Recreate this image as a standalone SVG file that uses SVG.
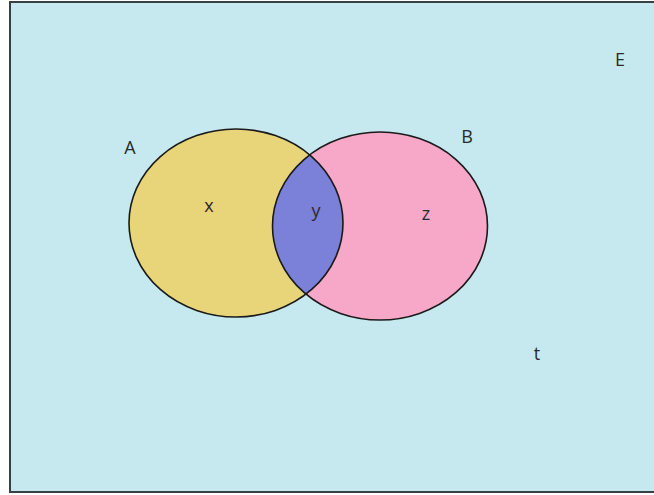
<svg xmlns="http://www.w3.org/2000/svg" width="654" height="495" viewBox="0 0 654 495">
<style>
.lbl{font-family:"Open Sans","Liberation Sans",Arial,sans-serif;font-size:18px;fill:#2a2a2a;text-anchor:middle}
.edge{fill:none;stroke:#1a1a1a;stroke-width:1.6}
</style>
<defs>
<clipPath id="clipA"><ellipse cx="236" cy="223" rx="107" ry="94"/></clipPath>
</defs>
<rect id="universe" x="10" y="2" width="650" height="490" fill="#c5e9ee" stroke="#3a3f44" stroke-width="2"/>
<g id="setA"><ellipse cx="236" cy="223" rx="107" ry="94" fill="#e8d57a"/></g>
<g id="setB"><ellipse cx="380" cy="226" rx="107.5" ry="94" fill="#f7a8c8"/></g>
<g id="intersection"><ellipse cx="380" cy="226" rx="107.5" ry="94" fill="#7b80d8" clip-path="url(#clipA)"/></g>
<g id="outlines">
<ellipse class="edge" cx="236" cy="223" rx="107" ry="94"/>
<ellipse class="edge" cx="380" cy="226" rx="107.5" ry="94"/>
</g>
<g id="labels">
<text class="lbl" x="130" y="154">A</text>
<text class="lbl" x="467" y="143">B</text>
<text class="lbl" x="620" y="66">E</text>
<text class="lbl" x="209" y="212">x</text>
<text class="lbl" x="316" y="217">y</text>
<text class="lbl" x="426" y="220">z</text>
<text class="lbl" x="537" y="360">t</text>
</g>
</svg>
